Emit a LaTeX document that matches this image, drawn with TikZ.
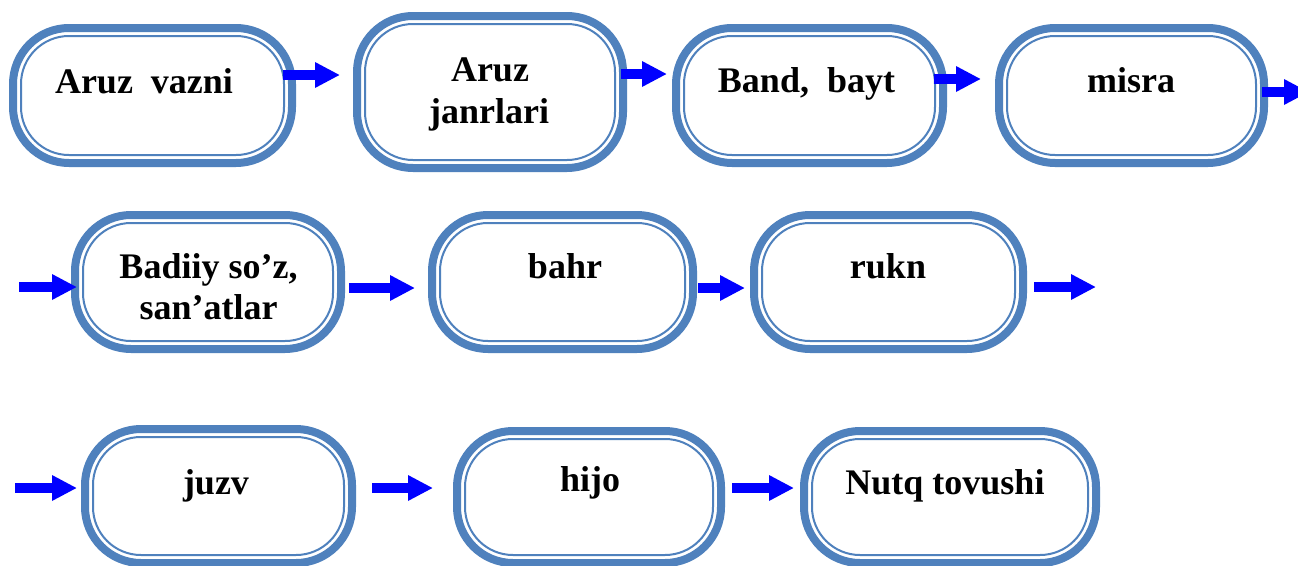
\documentclass[tikz,border=0pt]{standalone}
\usepackage{fontspec}
\setmainfont{Liberation Serif}
\usetikzlibrary{arrows.meta,calc}
\definecolor{boxblue}{HTML}{4F81BD}
\definecolor{arrblue}{HTML}{0000FF}
\begin{document}
\begin{tikzpicture}[x=1pt,y=-1pt,
  rbox/.style={draw=boxblue, line width=8pt, fill=white, rectangle, rounded corners=56pt, outer sep=0pt, inner sep=0pt},
  inline/.style={draw=boxblue, line width=2pt, rounded corners=48pt},
  txt/.style={font=\fontsize{36}{40}\selectfont\bfseries, anchor=base, inner sep=0pt},
  arr/.style={draw=arrblue, line width=10pt, -{Triangle[length=25pt,width=24pt]}}
]
\useasboundingbox (0,0) rectangle (1298,565);
\clip (0,0) rectangle (1298,565);
\fill[white] (0,0) rectangle (1298,565);

% boxes
\node[rbox, minimum width=279pt, minimum height=135pt] (b1) at (152.5,95.5) {};
\node[rbox, minimum width=266pt, minimum height=152pt] (b2) at (490,92) {};
\node[rbox, minimum width=267pt, minimum height=135pt] (b3) at (809.5,95.5) {};
\node[rbox, minimum width=265pt, minimum height=135pt] (b4) at (1131.5,95.5) {};
\node[rbox, minimum width=266pt, minimum height=134pt] (b5) at (208,282) {};
\node[rbox, minimum width=261pt, minimum height=134pt] (b6) at (562.5,282) {};
\node[rbox, minimum width=269pt, minimum height=134pt] (b7) at (888.5,282) {};
\node[rbox, minimum width=267pt, minimum height=134pt] (b8) at (218.5,496) {};
\node[rbox, minimum width=264pt, minimum height=132pt] (b9) at (589,497) {};
\node[rbox, minimum width=292pt, minimum height=132pt] (b10) at (950,497) {};

\foreach \b in {b1,b2,b3,b4,b5,b6,b7,b8,b9,b10}
  \draw[inline] ([xshift=8pt,yshift=8pt]\b.south west) rectangle ([xshift=-8pt,yshift=-8pt]\b.north east);

% texts
\node[txt] (t1) at (144,93) {Aruz~~vazni};
\node[txt] (t2a) at (490,81) {Aruz};
\node[txt] (t2b) at (489,123) {janrlari};
\node[txt] (t3) at (806.5,92) {Band,~~bayt};
\node[txt] (t4) at (1131,92) {misra};
\node[txt] (t5a) at (208.5,278) {Badiiy so’z,};
\node[txt] (t5b) at (208.5,319) {san’atlar};
\node[txt] (t6) at (565,278) {bahr};
\node[txt] (t7) at (888,278) {rukn};
\node[txt] (t8) at (216,494) {juzv};
\node[txt] (t9) at (590,491) {hijo};
\node[txt] (t10) at (945,494) {Nutq tovushi};

% arrows
\coordinate (a4e) at (1309,92);
\coordinate (a5s) at (19,287);
\coordinate (a8e) at (1096,287);
\coordinate (a9s) at (15,488);
\draw[arr] ($(b1.east|-0,75)+(-9,0)$) -- ($(b2.west|-0,75)+(-17,0)$);
\draw[arr] ($(b2.east|-0,74)+(-2,0)$) -- ($(b3.west|-0,74)+(-9,0)$);
\draw[arr] ($(b3.east|-0,79)+(-9,0)$) -- ($(b4.west|-0,79)+(-18,0)$);
\draw[arr] ($(b4.east|-a4e)+(-2,0)$) -- (a4e);
\draw[arr] (a5s) -- ($(b5.west|-a5s)+(2,0)$);
\draw[arr] ($(b5.east|-0,288)+(8,0)$) -- ($(b6.west|-0,288)+(-17,0)$);
\draw[arr] ($(b6.east|-0,288)+(5,0)$) -- ($(b7.west|-0,288)+(-9,0)$);
\draw[arr] ($(b7.east|-a8e)+(11,0)$) -- (a8e);
\draw[arr] (a9s) -- ($(b8.west|-a9s)+(-8,0)$);
\draw[arr] ($(b8.east|-0,488)+(20,0)$) -- ($(b9.west|-0,488)+(-24,0)$);
\draw[arr] ($(b9.east|-0,488)+(11,0)$) -- ($(b10.west|-0,488)+(-10,0)$);
\end{tikzpicture}
\end{document}
